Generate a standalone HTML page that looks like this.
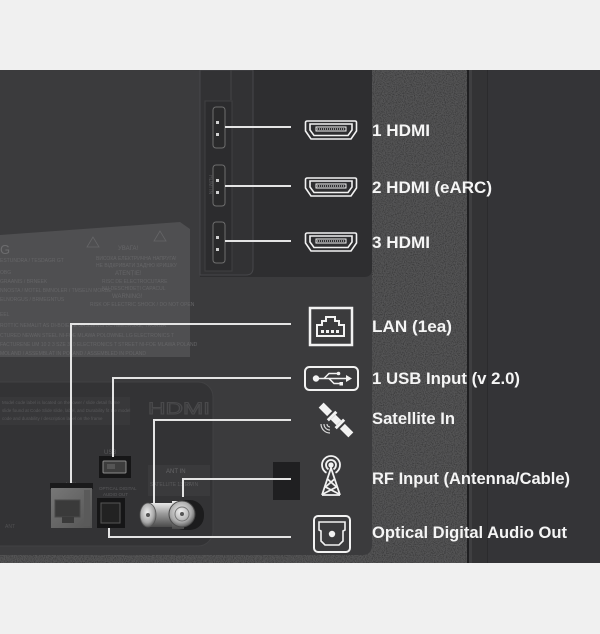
<!DOCTYPE html>
<html><head><meta charset="utf-8"><style>
html,body{margin:0;padding:0;background:#f0f0f0;}
svg{display:block;}
</style></head><body>
<svg width="600" height="634" viewBox="0 0 600 634" xmlns="http://www.w3.org/2000/svg" font-family="'Liberation Sans', sans-serif">
<defs>
<filter id="noise" x="0" y="0" width="100%" height="100%">
<feTurbulence type="fractalNoise" baseFrequency="0.9" numOctaves="2" seed="3" result="t"/>
<feColorMatrix in="t" type="matrix" values="0 0 0 0 0  0 0 0 0 0  0 0 0 0 0  1.6 0 0 0 -0.65"/>
</filter>
<linearGradient id="silver" x1="0" y1="0" x2="0" y2="1">
<stop offset="0" stop-color="#e8e8e8"/><stop offset="0.45" stop-color="#9a9a9a"/><stop offset="1" stop-color="#4a4a4a"/>
</linearGradient>
<radialGradient id="face" cx="0.45" cy="0.4" r="0.6">
<stop offset="0" stop-color="#f0f0f0"/><stop offset="0.7" stop-color="#a8a8a8"/><stop offset="1" stop-color="#606060"/>
</radialGradient>
<linearGradient id="lanmetal" x1="0" y1="0" x2="1" y2="1">
<stop offset="0" stop-color="#777"/><stop offset="1" stop-color="#555"/>
</linearGradient>
</defs>

<rect x="0" y="0" width="600" height="634" fill="#f0f0f0"/>

<!-- textured back -->
<rect x="0" y="70" width="470" height="493" fill="#545455"/>
<rect x="0" y="70" width="470" height="493" filter="url(#noise)" opacity="0.5"/>

<!-- right panel -->
<rect x="467" y="70" width="133" height="493" fill="#343437"/>
<rect x="467" y="70" width="2" height="493" fill="#1f1f21"/>
<rect x="469" y="70" width="3" height="493" fill="#3f3f41"/>
<rect x="472" y="70" width="15" height="493" fill="#333335"/>
<rect x="487" y="70" width="1" height="493" fill="#2b2b2d"/>

<!-- left main panel -->
<path d="M0,70 H372 V545 Q372,555 362,555 H0 Z" fill="#3b3b3d"/>

<!-- sticker -->
<polygon points="0,235 180,222 190,229 190,357 0,357" fill="#4f4f51"/>
<g fill="#656567" font-size="5">
<text x="0" y="254" font-size="13" fill="#6c6c6e">G</text>
<text x="0" y="262">ESTUNDRA / TESDAGR GT</text>
<text x="0" y="274">OBG</text>
<text x="0" y="283">GRAANIS / BRNEEK</text>
<text x="0" y="292">NNOSTA / MOTEL BMNOLER / TMSELN MORBE</text>
<text x="0" y="301">ELNORGUS / BRMEGNTUS</text>
<text x="0" y="316">EEL</text>
<text x="0" y="327">ROTTIC NEMALIT AS DI-BOIE, IE GRSSENIS DC NEEBRGAE, TRORGA</text>
<text x="0" y="337">CTURED NEWAN STEEL NI-FOE MLAWA POLOWNEL LG ELECTRONICS T</text>
<text x="0" y="346">FACTURENE UM 10 2 3 SZE 310 ELECTRONICS T STREET NI-FOE MLAWA POLAND</text>
<text x="0" y="355">MOLAND / ASSEMBLAT IN POLAND / ASSEMBLED IN POLAND</text>
<text x="96" y="260">BИСОКА ЕЛЕКТРИЧНА НАПРУГА!</text>
<text x="96" y="267">НЕ ВІДКРИВАТИ ЗАДНЮ КРИШКУ</text>
<text x="115" y="275" font-size="6">ATENȚIE!</text>
<text x="102" y="283">RISC DE ELECTROCUTARE</text>
<text x="102" y="290">NU DESCHIDEȚI CAPACUL</text>
<text x="112" y="298" font-size="6">WARNING!</text>
<text x="90" y="306">RISK OF ELECTRIC SHOCK / DO NOT OPEN</text>
<text x="118" y="250" font-size="6">УВАГА!</text>
</g>
<g fill="none" stroke="#656567" stroke-width="0.8">
<polygon points="93,237 87,247 99,247"/>
<polygon points="160,231 154,241 166,241"/>
</g>

<!-- HDMI side panel -->
<path d="M200,70 H372 V269 Q372,277 364,277 H200 Z" fill="#2e2e30"/>
<path d="M200,70 H253 V268 Q253,275 246,275 H200 Z" fill="#323234" stroke="#47474a" stroke-width="1"/>
<line x1="231" y1="70" x2="231" y2="100" stroke="#444446" stroke-width="1"/>
<rect x="205" y="101" width="27" height="170" fill="#2c2c2e" stroke="#404042" stroke-width="1"/>
<g>
<rect x="213" y="107" width="12" height="41" rx="3" fill="#2a2a2b" stroke="#6e6e6e" stroke-width="1"/>
<rect x="216" y="121" width="3" height="3" fill="#d0d0d0"/>
<rect x="216" y="133" width="3" height="3" fill="#d0d0d0"/>
<rect x="213" y="165" width="12" height="41" rx="3" fill="#2a2a2b" stroke="#6e6e6e" stroke-width="1"/>
<rect x="216" y="179" width="3" height="3" fill="#d0d0d0"/>
<rect x="216" y="191" width="3" height="3" fill="#d0d0d0"/>
<rect x="213" y="222" width="12" height="41" rx="3" fill="#2a2a2b" stroke="#6e6e6e" stroke-width="1"/>
<rect x="216" y="236" width="3" height="3" fill="#d0d0d0"/>
<rect x="216" y="248" width="3" height="3" fill="#d0d0d0"/>
</g>
<text transform="translate(209,175) rotate(90)" font-size="5" fill="#555557">HDMI IN</text>

<!-- lower recess -->
<rect x="-20" y="382" width="233" height="164" rx="15" fill="#333335" stroke="#414143" stroke-width="1"/>
<rect x="0" y="397" width="130" height="28" fill="#38383a"/>
<g fill="#58585a" font-size="4.5">
<text x="2" y="404">Model code label is located on the lower / slide detail frame</text>
<text x="2" y="412">slide found at Code Slide slide, label, and Durability fit the model</text>
<text x="2" y="420">code and durability / description label on the frame</text>
</g>
<text x="148" y="414" font-size="17" fill="none" stroke="#49494b" stroke-width="1" textLength="62" lengthAdjust="spacingAndGlyphs">HDMI</text>
<rect x="148" y="465" width="62" height="31" fill="#3a3a3c"/>
<text x="166" y="473" font-size="6" fill="#656567">ANT IN</text>
<text x="150" y="486" font-size="5" fill="#5a5a5c">SATELLITE 13/18V</text>
<text x="185" y="486" font-size="5" fill="#5a5a5c">RF IN</text>
<text x="104" y="454" font-size="6" fill="#5a5a5c">USB</text>
<text x="66" y="486" font-size="5" fill="#5a5a5c">LAN</text>
<text x="99" y="490" font-size="4.5" fill="#5a5a5c">OPTICAL DIGITAL</text>
<text x="103" y="496" font-size="4.5" fill="#5a5a5c">AUDIO OUT</text>
<text x="5" y="528" font-size="5" fill="#505052">ANT</text>

<rect x="273" y="462" width="27" height="38" fill="#1f1f21"/>

<!-- LAN port -->
<rect x="50" y="483" width="43" height="6" fill="#1a1a1b"/>
<rect x="51" y="488" width="41" height="40" fill="url(#lanmetal)"/>
<rect x="55" y="500" width="25" height="17" fill="#3a3a3a" stroke="#4a4a4a"/>
<rect x="62" y="517" width="12" height="6" fill="#3a3a3a"/>
<rect x="84" y="490" width="6" height="36" fill="#5a5a5a"/>

<!-- USB port -->
<rect x="99" y="456" width="32" height="22" fill="#161617"/>
<rect x="103" y="461" width="23" height="12" rx="1" fill="#3d3d3d" stroke="#8a8a8a" stroke-width="1"/>
<rect x="107" y="464" width="8" height="5" fill="#555"/>

<!-- optical port -->
<rect x="97" y="498" width="28" height="30" fill="#161617"/>
<rect x="101" y="503" width="19" height="20" fill="#222" stroke="#555" stroke-width="1"/>

<!-- coax -->
<rect x="170" y="500" width="34" height="30" rx="14" fill="#1c1c1d"/>
<rect x="146" y="503" width="26" height="24" fill="url(#silver)"/>
<ellipse cx="148" cy="515" rx="8" ry="12" fill="url(#face)" stroke="#555" stroke-width="0.8"/>
<circle cx="148" cy="515" r="2" fill="#555"/>
<rect x="172" y="501" width="12" height="28" fill="url(#silver)"/>
<circle cx="182" cy="514" r="13" fill="url(#face)" stroke="#4a4a4a" stroke-width="1"/>
<circle cx="182" cy="514" r="7" fill="none" stroke="#777" stroke-width="1"/>
<circle cx="182" cy="514" r="2" fill="#555"/>

<!-- connector lines -->
<g stroke="#e4e4e4" stroke-width="2" fill="none">
<polyline points="225,127 291,127"/>
<polyline points="225,186 291,186"/>
<polyline points="225,241 291,241"/>
<polyline points="71,483 71,324 291,324"/>
<polyline points="113,457 113,378 291,378"/>
<polyline points="154,503 154,420 291,420"/>
<polyline points="183,497 183,479 291,479"/>
<polyline points="109,528 109,537 291,537"/>
</g>

<!-- HDMI icons -->
<g fill="none" stroke="#f2f2f2" stroke-width="1.6">
<g>
<path d="M307.5,121 H355 Q356.5,121 356.5,122.5 V131 L351,139 H311 L305.5,131 V122.5 Q305.5,121 307.5,121 Z"/>
<path d="M310,124 H352 V130 L348,135.5 H314 L310,130 Z"/>
<rect x="316" y="127" width="30" height="4" stroke-width="1"/>
<line x1="317" y1="129" x2="345" y2="129" stroke-width="1" stroke-dasharray="1 1"/>
</g>
<g transform="translate(0,57)">
<path d="M307.5,121 H355 Q356.5,121 356.5,122.5 V131 L351,139 H311 L305.5,131 V122.5 Q305.5,121 307.5,121 Z"/>
<path d="M310,124 H352 V130 L348,135.5 H314 L310,130 Z"/>
<rect x="316" y="127" width="30" height="4" stroke-width="1"/>
<line x1="317" y1="129" x2="345" y2="129" stroke-width="1" stroke-dasharray="1 1"/>
</g>
<g transform="translate(0,112)">
<path d="M307.5,121 H355 Q356.5,121 356.5,122.5 V131 L351,139 H311 L305.5,131 V122.5 Q305.5,121 307.5,121 Z"/>
<path d="M310,124 H352 V130 L348,135.5 H314 L310,130 Z"/>
<rect x="316" y="127" width="30" height="4" stroke-width="1"/>
<line x1="317" y1="129" x2="345" y2="129" stroke-width="1" stroke-dasharray="1 1"/>
</g>
</g>

<!-- LAN icon -->
<rect x="310" y="308" width="42" height="37" fill="none" stroke="#f2f2f2" stroke-width="2.5"/>
<path d="M317,336 V325 H322 V321 H326 V317 H335 V321 H339 V325 H344 V336 Z" fill="none" stroke="#f2f2f2" stroke-width="2"/>
<g fill="#f2f2f2">
<rect x="321" y="330" width="3" height="3"/><rect x="326" y="330" width="3" height="3"/>
<rect x="331" y="330" width="3" height="3"/><rect x="336" y="330" width="3" height="3"/>
</g>

<!-- USB icon -->
<rect x="305" y="367" width="53" height="23" rx="4.5" fill="none" stroke="#f2f2f2" stroke-width="2"/>
<g stroke="#f2f2f2" stroke-width="1.5" fill="none">
<line x1="316" y1="378.5" x2="347" y2="378.5"/>
<polyline points="324,378.5 329,373.5 337,373.5"/>
<polyline points="329,378.5 334,383.5 340,383.5"/>
</g>
<g fill="#f2f2f2">
<circle cx="316" cy="378.5" r="3.2"/>
<polygon points="352,378.5 346,375 346,382"/>
<circle cx="338.5" cy="373.5" r="1.8"/>
<rect x="339.5" y="382" width="3.5" height="3.5"/>
</g>

<!-- Satellite icon -->
<g transform="translate(336,420) rotate(45)" fill="#f2f2f2">
<rect x="-21" y="-3.5" width="12" height="7"/>
<rect x="-7" y="-6" width="3" height="12"/>
<rect x="-4" y="-3.5" width="8" height="7"/>
<rect x="4" y="-6" width="3" height="12"/>
<rect x="9" y="-3.5" width="12" height="7"/>
</g>
<g fill="none" stroke="#d8d8d8" stroke-width="1.2">
<path d="M330,427 A3,3 0 0 1 327,424"/>
<path d="M330,430 A6,6 0 0 1 324,424"/>
<path d="M330,433 A9,9 0 0 1 321,424"/>
</g>

<!-- RF antenna icon -->
<circle cx="331" cy="465" r="2.6" fill="#f2f2f2"/>
<g fill="none" stroke="#f2f2f2" stroke-width="1.8">
<path d="M328.5,469.3 A5,5 0 1 1 333.5,469.3"/>
<path d="M326.5,472.8 A9,9 0 1 1 335.5,472.8"/>
<polyline points="322,495 331,468 340,495"/>
<line x1="322" y1="495" x2="340" y2="495"/>
<line x1="327.5" y1="479" x2="336.5" y2="487"/>
<line x1="334.5" y1="479" x2="325.5" y2="487"/>
<line x1="325.5" y1="487" x2="339" y2="494"/>
<line x1="336.5" y1="487" x2="323" y2="494"/>
</g>

<!-- Optical icon -->
<rect x="314" y="516" width="36" height="36" rx="4" fill="none" stroke="#f2f2f2" stroke-width="2"/>
<path d="M319,522 H345 V530 L343,531 V541 L339,545 H325 L321,541 V531 L319,530 Z" fill="none" stroke="#f2f2f2" stroke-width="1.6"/>
<circle cx="332" cy="534" r="3.2" fill="#f2f2f2"/>

<!-- labels -->
<g fill="#f5f5f5" font-weight="bold" font-size="17">
<text x="372" y="136" textLength="58" lengthAdjust="spacingAndGlyphs">1 HDMI</text>
<text x="372" y="193" textLength="120" lengthAdjust="spacingAndGlyphs">2 HDMI (eARC)</text>
<text x="372" y="248" textLength="58" lengthAdjust="spacingAndGlyphs">3 HDMI</text>
<text x="372" y="332" textLength="80" lengthAdjust="spacingAndGlyphs">LAN (1ea)</text>
<text x="372" y="384" textLength="148" lengthAdjust="spacingAndGlyphs">1 USB Input (v 2.0)</text>
<text x="372" y="424" textLength="83" lengthAdjust="spacingAndGlyphs">Satellite In</text>
<text x="372" y="484" textLength="198" lengthAdjust="spacingAndGlyphs">RF Input (Antenna/Cable)</text>
<text x="372" y="538" textLength="195" lengthAdjust="spacingAndGlyphs">Optical Digital Audio Out</text>
</g>

<rect x="0" y="563" width="600" height="71" fill="#f0f0f0"/>
<rect x="0" y="0" width="600" height="70" fill="#f0f0f0"/>
</svg>
</body></html>
